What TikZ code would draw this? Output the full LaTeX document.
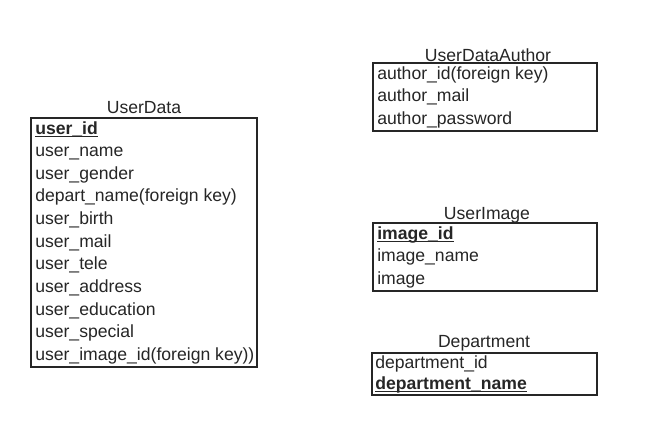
\documentclass[tikz,border=0pt]{standalone}
\usepackage{fontspec}
\setmainfont{Liberation Sans}
\begin{document}
\begin{tikzpicture}[x=0.75pt,y=-0.75pt,
  tbl/.style={draw=black!85, line width=0.9pt, inner sep=0pt, outer sep=0pt, anchor=north west},
  fld/.style={inner sep=0pt, anchor=base west, text=black!85, font=\fontsize{13.2}{16}\selectfont},
  key/.style={fld, font=\fontsize{13.2}{16}\selectfont\bfseries},
  ttl/.style={inner sep=0pt, anchor=base, text=black!85, font=\fontsize{13.2}{16}\selectfont},
  uline/.style={draw=black!85, line width=0.9pt}]
\useasboundingbox[fill=white] (0,0) rectangle (662,447);

% UserData
\node[ttl] (tUD) at (144,113) {UserData};
\node[tbl, minimum width=169.5pt, minimum height=186.75pt] (UD) at (31,118) {};
\node[key] (ud0) at (35,134) {user\_id};
\draw[uline] ([yshift=-1.6pt]ud0.base west) -- ([yshift=-1.6pt]ud0.base east);
\foreach \t [count=\i] in {user\_name,user\_gender,depart\_name(foreign key),user\_birth,user\_mail,user\_tele,user\_address,user\_education,user\_special,user\_image\_id(foreign key))}
  \node[fld] (ud\i) at (35,134+22.64*\i) {\t};

% UserDataAuthor
\node[ttl] (tUA) at (488,61) {UserDataAuthor};
\node[tbl, minimum width=168pt, minimum height=51pt] (UA) at (373,63) {};
\node[fld] (ua1) at (377,79) {author\_id(foreign key)};
\node[fld] (ua2) at (377,101.6) {author\_mail};
\node[fld] (ua3) at (377,124.3) {author\_password};

% UserImage
\node[ttl] (tUI) at (487,219) {UserImage};
\node[tbl, minimum width=168pt, minimum height=51pt] (UI) at (373,223) {};
\node[key] (ui1) at (377,239) {image\_id};
\draw[uline] ([yshift=-1.6pt]ui1.base west) -- ([yshift=-1.6pt]ui1.base east);
\node[fld] (ui2) at (377,261.6) {image\_name};
\node[fld] (ui3) at (377,284.3) {image};

% Department
\node[ttl] (tDP) at (484,347) {Department};
\node[tbl, minimum width=168.75pt, minimum height=31.5pt] (DP) at (372,353) {};
\node[fld] (dp1) at (375,368) {department\_id};
\node[key] (dp2) at (375,389) {department\_name};
\draw[uline] ([yshift=-1.6pt]dp2.base west) -- ([yshift=-1.6pt]dp2.base east);
\end{tikzpicture}
\end{document}
